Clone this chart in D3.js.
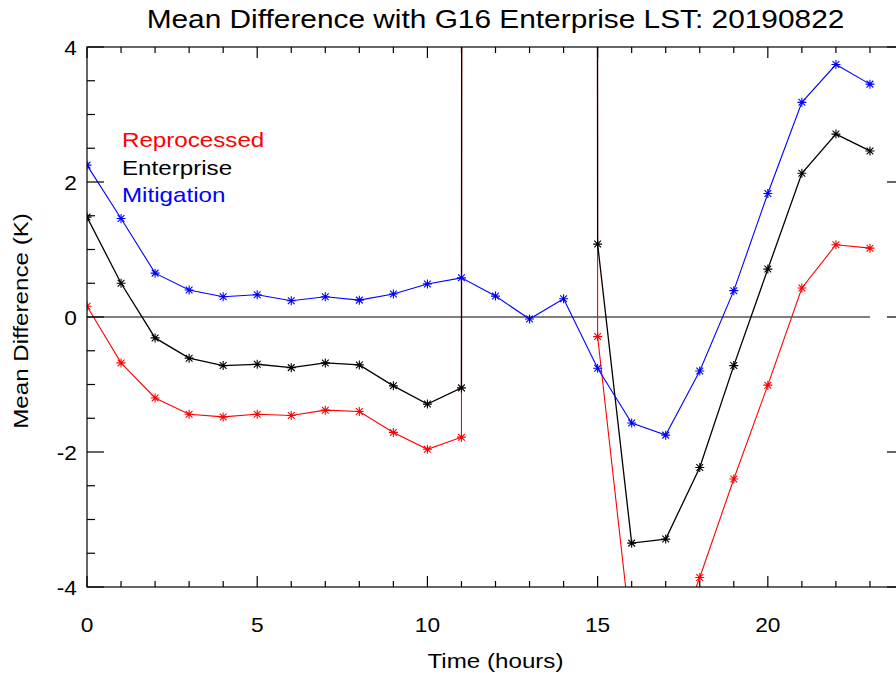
<!DOCTYPE html>
<html>
<head>
<meta charset="utf-8">
<script src="https://cdn.jsdelivr.net/npm/d3@7"></script>
<style>
    body { margin: 0; background: #fff; }
    text { font-family: "Liberation Sans", Arial, Helvetica, sans-serif; }
</style>
</head>
<body>
<div id="chart"></div>
<script>
var width = 896;
var height = 681;

// value used in the source for hours with no data (drawn off the top)
var FILL = 999;

var hours = [0, 1, 2, 3, 4, 5, 6, 7, 8, 9, 10, 11, 12, 13, 14, 15, 16, 17, 18, 19, 20, 21, 22, 23];
var reprocessed = [0.16, -0.68, -1.20, -1.44, -1.48, -1.44, -1.46, -1.38, -1.40, -1.71, -1.96, -1.78,
    FILL, FILL, FILL, -0.29, -4.80, -5.20, -3.86, -2.40, -1.01, 0.43, 1.07, 1.02];
var enterprise = [1.48, 0.50, -0.31, -0.61, -0.72, -0.70, -0.75, -0.68, -0.71, -1.02, -1.29, -1.05,
    FILL, FILL, FILL, 1.08, -3.35, -3.29, -2.23, -0.72, 0.71, 2.13, 2.71, 2.46];
var mitigation = [2.25, 1.46, 0.65, 0.40, 0.30, 0.33, 0.24, 0.30, 0.25, 0.34, 0.49, 0.58,
    0.31, -0.03, 0.27, -0.76, -1.57, -1.75, -0.80, 0.39, 1.83, 3.18, 3.74, 3.45];

var seriesNames = ["Reprocessed", "Enterprise", "Mitigation"];
var seriesColors = ["#ff0000", "#000000", "#0000ff"];
var seriesValues = [reprocessed, enterprise, mitigation];

var xTicksMajor = [0, 5, 10, 15, 20];
var yTicksMajor = [-4, -2, 0, 2, 4];

var plot = { left: 87, right: 904, top: 47, bottom: 587 };

var x = d3.scaleLinear().domain([0, 24]).range([plot.left, plot.right]);
var y = d3.scaleLinear().domain([-4, 4]).range([plot.bottom, plot.top]);

var svg = d3.select("#chart")
    .append("svg")
    .attr("width", width)
    .attr("height", height);

svg.append("defs").append("clipPath")
    .attr("id", "plot-clip")
    .append("rect")
    .attr("x", plot.left)
    .attr("y", plot.top)
    .attr("width", plot.right - plot.left)
    .attr("height", plot.bottom - plot.top);

/**
 * The IDL hardware font is wider than Arial, so widen every label a bit.
 */
function stretch(sel, k) {
    sel.each(function () {
        var w = this.getComputedTextLength();
        d3.select(this)
            .attr("textLength", w * k)
            .attr("lengthAdjust", "spacingAndGlyphs");
    });
}

/**
 * IDL style box: ticks on all four sides, pointing inwards.
 */
function drawFrame() {
    var g = svg.append("g");
    var xMinor = d3.range(0, 25, 1);
    var yMinor = d3.range(-4, 4.01, 0.5);

    g.append("rect")
        .attr("x", plot.left)
        .attr("y", plot.top)
        .attr("width", plot.right - plot.left)
        .attr("height", plot.bottom - plot.top)
        .attr("fill", "none")
        .attr("stroke", "#000")
        .attr("stroke-width", 1.2);

    xMinor.forEach(function (t) {
        var len = xTicksMajor.indexOf(t) >= 0 ? 11 : 6;
        g.append("line").attr("x1", x(t)).attr("x2", x(t))
            .attr("y1", plot.bottom).attr("y2", plot.bottom - len)
            .attr("stroke", "#000").attr("stroke-width", 1.2);
        g.append("line").attr("x1", x(t)).attr("x2", x(t))
            .attr("y1", plot.top).attr("y2", plot.top + len)
            .attr("stroke", "#000").attr("stroke-width", 1.2);
    });

    yMinor.forEach(function (t) {
        var len = yTicksMajor.indexOf(t) >= 0 ? 17 : 8;
        g.append("line").attr("x1", plot.left).attr("x2", plot.left + len)
            .attr("y1", y(t)).attr("y2", y(t))
            .attr("stroke", "#000").attr("stroke-width", 1.2);
        g.append("line").attr("x1", plot.right).attr("x2", plot.right - len)
            .attr("y1", y(t)).attr("y2", y(t))
            .attr("stroke", "#000").attr("stroke-width", 1.2);
    });

    var xl = g.selectAll(".xlab")
        .data(xTicksMajor)
        .enter()
        .append("text")
        .attr("x", function (d) { return x(d); })
        .attr("y", 632)
        .attr("text-anchor", "middle")
        .attr("font-size", 21)
        .text(function (d) { return d; });
    stretch(xl, 1.08);

    var yl = g.selectAll(".ylab")
        .data(yTicksMajor)
        .enter()
        .append("text")
        .attr("x", 77)
        .attr("y", function (d) { return y(d) + 8; })
        .attr("text-anchor", "end")
        .attr("font-size", 21)
        .text(function (d) { return d; });
    stretch(yl, 1.08);
}

/**
 * Lines and asterisk symbols for every series, clipped to the box.
 */
function drawSeries() {
    var g = svg.append("g").attr("clip-path", "url(#plot-clip)");

    // zero reference line
    g.append("path")
        .datum(hours)
        .attr("d", d3.line()
            .x(function (d) { return x(d); })
            .y(function () { return y(0); }))
        .attr("fill", "none")
        .attr("stroke", "#000")
        .attr("stroke-width", 1.2);

    var r = 4.5;
    var star = "M" + (-r) + ",0L" + r + ",0M0," + (-r) + "L0," + r +
        "M" + (-r * 0.75) + "," + (-r * 0.75) + "L" + (r * 0.75) + "," + (r * 0.75) +
        "M" + (-r * 0.75) + "," + (r * 0.75) + "L" + (r * 0.75) + "," + (-r * 0.75);

    seriesValues.forEach(function (vals, s) {
        var line = d3.line()
            .x(function (d, i) { return x(hours[i]); })
            .y(function (d) { return y(d); });

        g.append("path")
            .datum(vals)
            .attr("d", line)
            .attr("fill", "none")
            .attr("stroke", seriesColors[s])
            .attr("stroke-width", s === 1 ? 1.3 : 1.1);

        g.selectAll(".sym" + s)
            .data(vals)
            .enter()
            .append("path")
            .attr("transform", function (d, i) {
                return "translate(" + x(hours[i]) + "," + y(d) + ")";
            })
            .attr("d", star)
            .attr("fill", "none")
            .attr("stroke", seriesColors[s])
            .attr("stroke-width", 1.1);
    });
}

function drawTexts() {
    var title = svg.append("text")
        .attr("x", (plot.left + plot.right) / 2)
        .attr("y", 28)
        .attr("text-anchor", "middle")
        .attr("font-size", 25.5)
        .text("Mean Difference with G16 Enterprise LST: 20190822");
    stretch(title, 1.17);

    var xt = svg.append("text")
        .attr("x", (plot.left + plot.right) / 2)
        .attr("y", 668)
        .attr("text-anchor", "middle")
        .attr("font-size", 21)
        .text("Time (hours)");
    stretch(xt, 1.15);

    var yt = svg.append("text")
        .attr("transform", "translate(28," + ((plot.top + plot.bottom) / 2 + 4) + ") rotate(-90)")
        .attr("text-anchor", "middle")
        .attr("font-size", 21)
        .text("Mean Difference (K)");
    stretch(yt, 1.15);

    var lg = svg.selectAll(".legend")
        .data(seriesNames)
        .enter()
        .append("text")
        .attr("x", 122)
        .attr("y", function (d, i) { return 147 + i * 27.5; })
        .attr("font-size", 21)
        .attr("fill", function (d, i) { return seriesColors[i]; })
        .text(function (d) { return d; });
    stretch(lg, 1.15);
}

drawSeries();
drawFrame();
drawTexts();
</script>
</body>
</html>
